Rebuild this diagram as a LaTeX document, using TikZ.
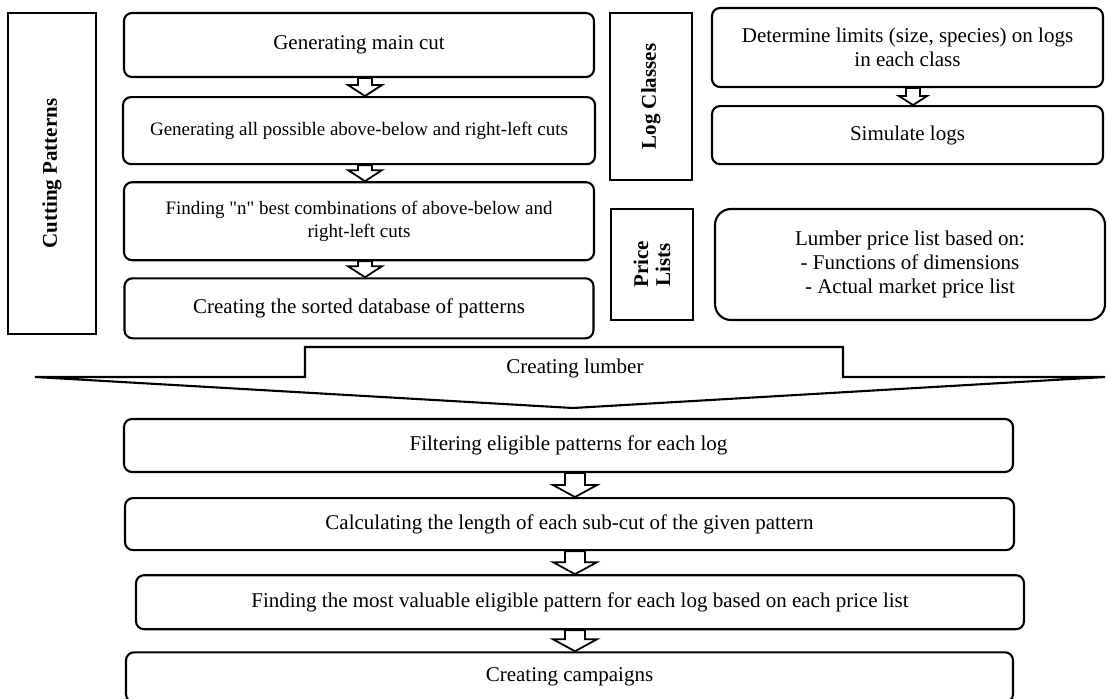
\documentclass[tikz,border=0pt]{standalone}
\usepackage{fontspec}
\setmainfont{Liberation Serif}
\usetikzlibrary{positioning, calc}

\tikzset{
    stepbox/.style={draw, line width=2.1pt, rounded corners=8pt, align=center, inner sep=0pt, font=\fontsize{21pt}{24pt}\selectfont},
    smallbox/.style={stepbox, font=\fontsize{19pt}{23pt}\selectfont},
    tagbox/.style={draw, line width=2.1pt, rotate=90, align=center, inner sep=0pt, font=\bfseries\fontsize{21pt}{22pt}\selectfont},
    blockarr/.style={draw, line width=1.8pt, fill=white}
}

% hollow block arrow: from, to, x, shaft half width, head half width, head length
\newcommand{\hollowdown}[6]{%
    \draw[blockarr] let \p1=(#1.south), \p2=(#2.north) in
        ({#3pt-#4pt},\y1) -- ({#3pt-#4pt},{\y2+#6pt}) -- ({#3pt-#5pt},{\y2+#6pt})
        -- (#3pt,\y2) -- ({#3pt+#5pt},{\y2+#6pt}) -- ({#3pt+#4pt},{\y2+#6pt})
        -- ({#3pt+#4pt},\y1) -- cycle;}

\begin{document}
\begin{tikzpicture}[x=1pt, y=-1pt]
    \useasboundingbox (0,0) rectangle (1107,698);

    % cutting patterns
    \node[tagbox, minimum width=321pt, minimum height=88pt] (cutpat) at (52,173.5) {Cutting Patterns};
    \node[stepbox, minimum width=470pt, minimum height=64pt] (main) at (359,45) {Generating main cut};
    \node[smallbox, minimum width=472pt, minimum height=67pt, below=18pt of main] (allcuts) {Generating all possible above-below and right-left cuts};
    \node[smallbox, minimum width=470pt, minimum height=78pt, below=16pt of allcuts] (best) {Finding \textquotedbl n\textquotedbl{} best combinations of above-below and\\right-left cuts};
    \node[stepbox, minimum width=469pt, minimum height=60pt, below=16pt of best] (sorted) {Creating the sorted database of patterns};

    % log classes and price lists
    \node[tagbox, minimum width=167pt, minimum height=82pt] (logcls) at (651,96.5) {Log Classes};
    \node[tagbox, minimum width=111pt, minimum height=82pt] (prices) at (652,264.5) {Price\\Lists};
    \node[stepbox, minimum width=391pt, minimum height=79pt] (limits) at (907.5,47.5) {Determine limits (size, species) on logs\\in each class};
    \node[stepbox, minimum width=391pt, minimum height=58pt, below=17pt of limits] (simlogs) {Simulate logs};
    \node[stepbox, rounded corners=16pt, minimum width=390pt, minimum height=111pt] (pricelist) at (910,264.5) {Lumber price list based on:\\- Functions of dimensions\\- Actual market price list};

    % creating lumber
    \draw[line width=2.1pt] (305,347) -- (843,347) -- (843,377) -- (1105,377) -- (573,408) -- (35,377) -- (305,377) -- cycle;
    \node[font=\fontsize{21pt}{24pt}\selectfont] (lumber) at (575,368) {Creating lumber};

    \node[stepbox, minimum width=889pt, minimum height=53pt] (filter) at (568.5,445.5) {Filtering eligible patterns for each log};
    \node[stepbox, minimum width=889pt, minimum height=52pt, below=24pt of filter, xshift=1pt] (sublen) {Calculating the length of each sub-cut of the given pattern};
    \node[stepbox, minimum width=888pt, minimum height=54pt, below=23pt of sublen, xshift=10.5pt] (valuable) {Finding the most valuable eligible pattern for each log based on each price list};
    \node[stepbox, minimum width=887pt, minimum height=50pt, below=21pt of valuable, xshift=-10.5pt] (campaign) {Creating campaigns};

    \foreach \a/\b in {main/allcuts, allcuts/best, best/sorted}
        \hollowdown{\a}{\b}{365}{7}{17}{11};
    \hollowdown{limits}{simlogs}{913}{7}{14}{9}
    \foreach \a/\b in {filter/sublen, sublen/valuable, valuable/campaign}
        \hollowdown{\a}{\b}{575}{10}{22}{12};
\end{tikzpicture}
\end{document}
